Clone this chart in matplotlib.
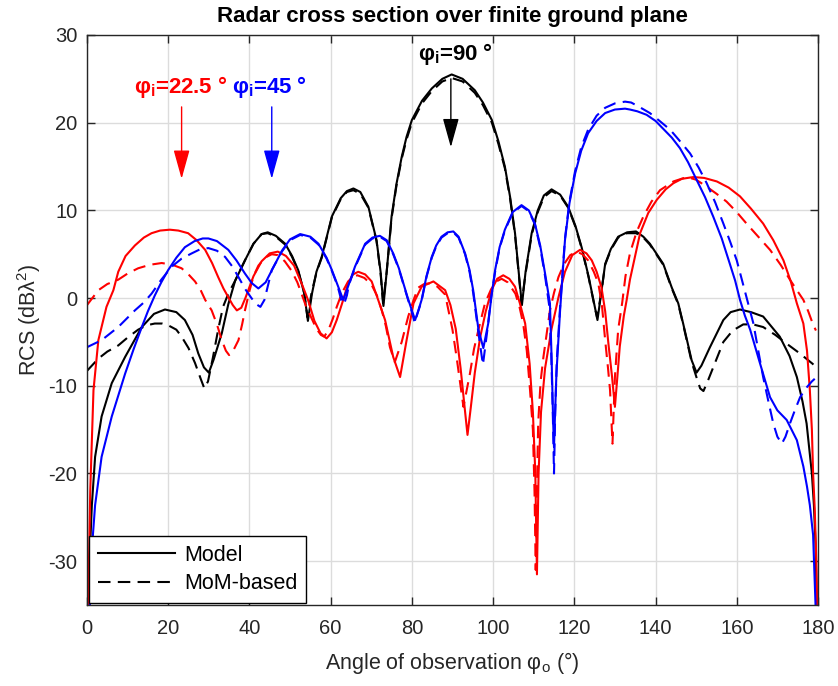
import matplotlib
matplotlib.use("Agg")
import matplotlib.pyplot as plt
from matplotlib.lines import Line2D

plt.rcParams['font.family'] = ['Liberation Sans', 'DejaVu Sans']
plt.rcParams['mathtext.fontset'] = 'custom'
plt.rcParams['mathtext.rm'] = 'Liberation Sans'
plt.rcParams['mathtext.it'] = 'Liberation Sans:italic'
plt.rcParams['mathtext.bf'] = 'Liberation Sans:bold'
plt.rcParams['axes.unicode_minus'] = False

# ---------------- data ----------------
# phi_i = 90 deg, model (solid)
k_mod_x = [0.3, 0.8, 1.2, 2.0, 3.6, 6.1, 9.4, 13.5, 16.5, 19.2, 22.0, 24.1, 26.0, 27.4, 28.8, 30.0, 31.2, 33.2,
           34.8, 36.5, 38.9, 41.0, 43.0, 44.5, 46.5, 48.8, 50.5, 52.0, 53.5, 54.4, 55.4, 56.5, 57.8, 60.3, 62.5,
           64.0, 65.6, 67.3, 69.3, 71.3, 72.3, 73.0, 73.8, 75.0, 76.2, 77.5, 78.7, 80.0, 82.5, 84.9, 87.5, 89.8,
           92.5, 95.5, 97.5, 99.7, 101.3, 102.9, 104.2, 105.4, 106.3, 107.1, 108.0, 109.5, 111.0, 112.5, 114.4,
           116.5, 118.5, 120.3, 121.8, 123.5, 124.7, 125.7, 126.6, 127.6, 129.0, 130.8, 133.0, 135.2, 137.0,
           138.6, 141.9, 144.0, 145.6, 146.8, 148.9, 150.1, 151.3, 153.4, 156.7, 158.5, 160.8, 163.5, 166.5,
           170.6, 173.0, 174.8, 176.2, 177.2, 178.5, 179.0, 179.4, 179.7]
k_mod_y = [-35, -28, -23.6, -18.1, -13.5, -9.7, -6.7, -3.3, -1.8, -1.3, -1.6, -2.5, -4.2, -6.3, -7.9, -8.5, -7.0,
           -4.0, -0.7, 2.0, 4.3, 6.2, 7.3, 7.5, 7.1, 6.2, 4.8, 3.2, 0.5, -2.6, 0.5, 3.0, 4.7, 9.3, 11.4, 12.2, 12.5,
           12.1, 10.4, 6.6, 3.0, -0.9, 3.0, 9.3, 13.0, 16.1, 18.4, 20.3, 22.5, 23.9, 25.0, 25.5, 25.0, 23.7, 22.3,
           20.3, 17.9, 15.0, 11.5, 7.4, 3.0, -0.8, 3.0, 7.4, 10.0, 11.7, 12.4, 11.8, 10.4, 8.2, 5.8, 2.5, -0.2,
           -2.5, 0.5, 3.9, 5.6, 7.0, 7.5, 7.6, 7.0, 6.2, 3.9, 1.2, -0.6, -2.9, -7.1, -8.5, -7.7, -5.6, -2.5, -1.6,
           -1.3, -1.6, -2.1, -4.4, -6.6, -9.0, -11.8, -14.3, -20.0, -23.6, -28.0, -35.0]

# phi_i = 90 deg, MoM (dashed)
k_mom_x = [0.0, 2.8, 5.0, 7.7, 10.0, 12.6, 14.7, 16.7, 18.5, 20.0, 22.0, 23.3, 25.0, 26.6, 28.0, 28.9, 29.8, 31.0,
           32.3, 33.5, 34.8, 36.5, 38.9, 41.0, 43.0, 44.5, 46.5, 48.8, 50.5, 52.0, 53.5, 54.3, 55.3, 56.5, 57.8,
           60.3, 62.5, 64.0, 65.6, 67.3, 69.3, 71.3, 72.3, 72.9, 73.8, 75.0, 76.2, 77.5, 78.7, 80.0, 82.5, 84.9,
           87.5, 89.8, 92.5, 95.5, 97.5, 99.7, 101.3, 102.9, 104.2, 105.4, 106.3, 107.0, 108.0, 109.5, 111.0,
           112.5, 114.4, 116.5, 118.5, 120.3, 121.8, 123.5, 124.7, 125.6, 126.6, 127.6, 129.0, 130.8, 133.0,
           135.2, 137.0, 138.6, 141.9, 144.0, 145.6, 146.8, 148.9, 150.2, 151.0, 151.8, 153.0, 156.7, 159.0,
           161.6, 164.0, 166.5, 169.5, 172.3, 175.5, 178.7, 179.3]
k_mom_y = [-8.3, -6.9, -6.1, -5.4, -4.5, -3.6, -3.1, -2.9, -2.9, -3.1, -3.6, -4.4, -5.7, -7.4, -9.2, -10.3, -9.5,
           -6.8, -3.6, -1.0, 0.5, 2.0, 4.3, 6.2, 7.3, 7.4, 7.0, 6.1, 4.7, 3.1, 0.6, -2.2, 0.6, 2.9, 4.6, 9.2, 11.3,
           12.1, 12.3, 11.9, 10.3, 6.5, 2.8, -0.6, 3.0, 9.1, 12.8, 15.9, 18.1, 20.0, 22.2, 23.6, 24.7, 25.1, 24.7,
           23.4, 22.0, 20.0, 17.6, 14.8, 11.3, 7.2, 2.8, -0.6, 2.8, 7.2, 9.8, 11.5, 12.2, 11.7, 10.3, 8.1, 5.7,
           2.4, -0.3, -2.2, 0.5, 3.8, 5.5, 6.9, 7.4, 7.4, 6.9, 6.1, 3.8, 1.1, -0.7, -3.0, -7.3, -9.2, -10.3,
           -10.6, -9.3, -5.0, -3.7, -3.0, -3.0, -3.3, -4.2, -5.2, -6.3, -7.5, -7.8]

# phi_i = 22.5 deg, model (solid)
r_mod_x = [0.3, 0.8, 1.6, 2.8, 4.8, 6.5, 7.7, 9.5, 11.8, 14.0, 15.9, 18.0, 20.4, 22.5, 24.9, 27.0, 29.1, 30.8, 32.3,
           33.6, 34.8, 35.9, 36.9, 38.0, 39.0, 41.0, 43.0, 45.0, 47.0, 49.0, 51.0, 53.0, 54.5, 56.0, 57.5, 59.0,
           60.3, 61.5, 63.1, 64.3, 65.5, 66.8, 68.5, 70.1, 71.7, 73.4, 75.4, 77.1, 78.7, 80.4, 82.4, 85.3, 88.2,
           89.5, 90.8, 92.0, 93.0, 93.7, 94.5, 95.5, 96.8, 98.2, 99.7, 101.0, 102.5, 104.0, 105.4, 106.6, 107.9,
           109.0, 109.8, 110.4, 110.8, 111.2, 111.8, 112.8, 114.4, 116.1, 117.7, 119.5, 121.4, 123.0, 124.3,
           125.5, 126.7, 127.6, 128.4, 129.3, 130.0, 130.6, 131.2, 132.2, 132.9, 133.7, 136.2, 138.2, 140.3,
           142.5, 144.4, 146.5, 149.3, 152.0, 155.1, 158.0, 160.8, 163.5, 166.5, 169.0, 171.5, 173.3, 174.8,
           176.4, 177.3, 178.0, 178.5, 178.8, 179.2, 179.6, 179.8]
r_mod_y = [-35, -22, -10.5, -4.8, -1.0, 0.9, 3.0, 4.8, 6.0, 6.9, 7.4, 7.7, 7.8, 7.7, 7.4, 6.6, 5.5, 4.0, 2.4, 1.1,
           0.1, -0.8, -1.4, -1.1, 0.0, 2.5, 4.2, 5.1, 5.3, 4.8, 3.7, 1.5, -0.3, -2.6, -4.0, -4.6, -3.9, -2.5, -0.2,
           1.7, 2.7, 3.0, 2.7, 1.9, -0.2, -2.5, -6.7, -9.0, -4.8, -0.6, 1.3, 1.9, 0.9, -0.8, -3.5, -8.0, -12.5,
           -15.6, -12.5, -8.5, -4.5, -1.5, 1.0, 2.2, 2.6, 2.2, 1.3, -0.6, -2.9, -7.5, -13.0, -20.0, -31.5, -20.0,
           -13.0, -8.0, -3.5, 0.1, 3.0, 4.9, 5.5, 5.1, 4.3, 3.0, 1.2, -1.5, -5.2, -9.0, -12.4, -9.0, -5.5, -2.0,
           -0.2, 2.1, 7.4, 9.7, 11.2, 12.4, 13.1, 13.6, 13.8, 13.7, 13.3, 12.6, 11.6, 10.2, 8.5, 6.6, 4.3, 1.9,
           -0.6, -2.9, -6.0, -10.5, -15.0, -20.0, -24.0, -30.0, -35.0]

# phi_i = 22.5 deg, MoM (dashed)
r_mom_x = [0.0, 1.5, 2.8, 5.0, 7.7, 10.0, 12.6, 15.5, 18.4, 21.0, 23.3, 25.0, 26.6, 28.0, 29.1, 30.7, 32.0, 33.2,
           34.2, 35.0, 36.0, 37.3, 38.2, 38.9, 40.0, 41.0, 42.2, 43.8, 45.5, 47.0, 48.7, 50.4, 51.8, 52.9, 54.0,
           55.3, 56.5, 57.6, 58.4, 59.4, 60.5, 61.5, 62.8, 64.3, 65.5, 66.6, 68.3, 70.1, 71.4, 72.6, 73.6, 74.6,
           75.8, 76.7, 77.5, 79.1, 80.5, 81.6, 83.0, 84.5, 86.3, 88.2, 89.0, 90.0, 91.0, 92.0, 92.7, 93.5, 94.3,
           95.3, 96.4, 98.0, 99.5, 100.8, 102.1, 103.6, 105.5, 106.5, 107.4, 108.3, 109.1, 109.8, 110.2, 110.5,
           110.8, 111.1, 111.7, 112.4, 114.0, 115.0, 116.1, 117.5, 119.0, 120.6, 122.0, 123.4, 124.8, 125.9,
           126.8, 127.6, 128.3, 128.8, 129.4, 130.0, 130.8, 131.8, 132.6, 133.7, 135.3, 137.0, 139.0, 141.1,
           144.4, 147.7, 150.0, 152.6, 155.0, 157.5, 160.0, 162.4, 165.3, 168.2, 170.8, 173.1, 174.8, 176.4,
           177.6, 178.7, 179.5]
r_mom_y = [-0.8, 0.1, 0.9, 1.6, 2.1, 2.8, 3.4, 3.8, 4.0, 3.8, 3.4, 2.7, 1.9, 0.9, -0.2, -1.4, -3.0, -4.8, -6.0,
           -6.5, -6.0, -4.8, -3.0, -1.4, 0.8, 2.5, 3.7, 4.6, 5.0, 4.9, 4.2, 3.1, 1.8, 0.4, -1.0, -2.3, -3.5, -4.2,
           -4.4, -3.7, -2.4, -1.0, 0.6, 1.9, 2.4, 2.6, 2.3, 1.5, 0.3, -1.4, -3.2, -5.6, -7.3, -6.1, -5.0, -2.1,
           -0.1, 1.2, 1.6, 1.7, 1.3, 0.4, -1.4, -3.6, -6.7, -10.0, -12.4, -10.5, -8.6, -5.8, -3.6, -0.6, 1.0, 1.9,
           2.2, 1.8, 0.5, -1.0, -2.9, -6.0, -10.5, -15.0, -22.0, -31.0, -22.0, -14.3, -9.5, -6.7, -1.4, 0.6, 2.4,
           3.9, 4.9, 5.3, 5.0, 4.3, 3.0, 1.7, -0.8, -4.8, -8.0, -10.5, -16.6, -9.0, -3.6, -0.5, 2.5, 5.1, 7.5,
           9.3, 11.0, 12.3, 13.3, 13.8, 13.5, 12.7, 11.9, 11.0, 9.8, 8.5, 7.0, 5.5, 3.8, 2.1, 0.9, -0.2, -1.5,
           -2.9, -3.7]

# phi_i = 45 deg, model (solid)
b_mod_x = [0.7, 1.3, 2.0, 3.6, 6.1, 9.4, 11.5, 13.5, 15.0, 16.7, 18.3, 20.0, 22.0, 24.1, 26.5, 28.5, 29.9, 32.0,
           34.8, 36.8, 38.9, 40.6, 42.2, 44.0, 46.0, 48.0, 50.0, 52.5, 55.0, 57.0, 59.0, 60.3, 61.7, 63.1, 64.5,
           66.0, 68.5, 70.3, 72.1, 73.8, 75.4, 76.8, 77.9, 79.0, 80.0, 80.8, 81.6, 82.4, 83.6, 84.9, 86.0, 87.3,
           88.8, 90.2, 91.5, 93.1, 94.2, 95.1, 96.4, 97.6, 98.8, 99.6, 100.5, 101.6, 102.9, 104.8, 107.0, 108.8,
           110.3, 111.6, 112.8, 114.0, 114.4, 114.8, 115.0, 115.2, 115.6, 116.5, 117.7, 118.8, 120.2, 121.7,
           123.4, 125.5, 127.6, 130.0, 132.5, 133.7, 135.5, 137.8, 140.0, 141.9, 144.0, 146.0, 148.0, 150.1,
           152.2, 154.2, 156.3, 158.3, 159.6, 160.8, 162.0, 163.3, 165.7, 168.2, 170.0, 172.3, 174.8, 176.4,
           177.3, 178.0, 178.8, 179.4]
b_mod_y = [-35, -28, -23.6, -18.1, -13.5, -8.6, -5.8, -3.3, -1.5, 0.3, 1.8, 3.2, 4.6, 5.8, 6.5, 6.8, 6.8, 6.5, 5.5,
           4.3, 2.8, 1.7, 1.1, 1.8, 3.6, 5.4, 6.7, 7.3, 7.0, 6.2, 4.6, 3.2, 1.5, -0.2, 1.6, 3.6, 6.2, 6.9, 7.1,
           6.6, 5.1, 3.4, 1.7, 0.0, -1.4, -2.5, -1.4, -0.2, 2.5, 4.7, 6.0, 7.0, 7.5, 7.6, 7.0, 5.1, 3.2, 0.9,
           -3.6, -5.7, -2.9, 0.2, 3.2, 5.8, 7.8, 9.8, 10.6, 10.0, 8.5, 6.0, 2.8, -0.6, -6.7, -14.3, -17.0, -14.0,
           -8.6, -1.4, 6.6, 10.8, 14.2, 16.8, 18.8, 20.2, 21.1, 21.5, 21.6, 21.5, 21.3, 20.9, 20.2, 19.3, 18.3,
           17.1, 15.5, 13.5, 11.5, 9.3, 6.8, 3.9, 2.0, -0.2, -2.0, -3.6, -7.4, -11.3, -12.8, -13.9, -16.2, -19.2,
           -21.5, -23.6, -27.0, -35.0]

# phi_i = 45 deg, MoM (dashed)
b_mom_x = [0.0, 3.6, 7.7, 11.8, 14.0, 15.9, 18.3, 20.9, 23.3, 25.8, 28.0, 29.9, 32.0, 34.0, 35.8, 37.3, 39.0, 40.5,
           41.7, 42.7, 43.7, 44.6, 45.5, 48.0, 50.0, 52.5, 55.0, 57.0, 59.0, 60.3, 61.7, 62.6, 63.3, 64.0, 64.5,
           66.0, 68.5, 70.3, 72.1, 73.8, 75.4, 76.8, 77.9, 79.0, 80.0, 80.7, 81.5, 82.4, 83.6, 84.9, 86.0, 87.3,
           88.8, 90.2, 91.5, 93.1, 94.2, 95.1, 96.4, 97.5, 98.6, 99.5, 100.5, 101.6, 102.9, 104.8, 107.0, 108.8,
           110.3, 111.6, 112.8, 113.8, 114.3, 114.7, 115.0, 115.3, 115.7, 116.5, 117.7, 118.8, 120.2, 121.7,
           123.4, 125.5, 127.6, 130.0, 132.5, 134.0, 136.0, 138.6, 141.0, 143.6, 146.0, 148.5, 150.6, 152.6,
           154.7, 156.7, 158.4, 160.0, 161.2, 162.4, 164.1, 165.3, 166.5, 167.8, 169.0, 170.0, 171.1, 172.0,
           173.1, 174.3, 175.6, 177.0, 178.5, 179.2]
b_mom_y = [-5.6, -4.8, -3.3, -1.4, -0.5, 0.5, 2.1, 3.6, 4.5, 5.1, 5.6, 5.7, 5.4, 4.7, 3.6, 2.4, 1.0, 0.0, -0.7,
           -1.0, -0.2, 1.5, 3.2, 5.3, 6.6, 7.2, 6.9, 6.1, 4.5, 3.1, 1.4, -0.2, -0.7, 0.3, 1.5, 3.5, 6.1, 6.8, 7.0,
           6.5, 5.0, 3.3, 1.6, -0.1, -1.6, -2.8, -1.6, -0.3, 2.4, 4.6, 5.9, 6.9, 7.4, 7.5, 6.9, 5.0, 3.0, 0.6,
           -4.0, -7.6, -3.6, 0.0, 3.0, 5.7, 7.7, 9.7, 10.5, 9.9, 8.4, 5.8, 2.5, -0.8, -6.0, -13.0, -20.0, -13.0,
           -7.0, -1.0, 6.8, 11.0, 14.5, 17.2, 19.2, 20.8, 21.7, 22.2, 22.4, 22.3, 21.8, 21.1, 20.2, 19.2, 17.9,
           16.5, 14.9, 13.1, 10.9, 8.5, 6.4, 4.3, 2.2, 0.1, -2.9, -6.0, -9.0, -11.8, -14.3, -15.8, -16.6, -15.8,
           -14.3, -12.8, -11.3, -10.3, -9.5, -9.2]

x_ticks = [0, 20, 40, 60, 80, 100, 120, 140, 160, 180]
y_ticks = [-30, -20, -10, 0, 10, 20, 30]
legend_labels = ['Model', 'MoM-based']
title_text = 'Radar cross section over finite ground plane'

# ---------------- figure ----------------
fig = plt.figure(figsize=(8.38, 6.86), dpi=100)
ax = fig.add_axes([0.1038, 0.118, 0.8723, 0.831])

lw = 1.5
dash = (0, (6, 3.5))
ax.plot(k_mod_x, k_mod_y, color='black', lw=lw)
ax.plot(k_mom_x, k_mom_y, color='black', lw=lw, linestyle=dash)
ax.plot(r_mod_x, r_mod_y, color='red', lw=lw)
ax.plot(r_mom_x, r_mom_y, color='red', lw=lw, linestyle=dash)
ax.plot(b_mod_x, b_mod_y, color='blue', lw=lw)
ax.plot(b_mom_x, b_mom_y, color='blue', lw=lw, linestyle=dash)

ax.set_xlim(0, 180)
ax.set_ylim(-35, 30)
ax.set_xticks(x_ticks)
ax.set_yticks(y_ticks)
ax.grid(True, color='#dcdcdc', linewidth=1.0)
ax.set_axisbelow(True)
gray = '#262626'
for s in ax.spines.values():
    s.set_color(gray)
    s.set_linewidth(1.0)
ax.tick_params(direction='in', top=True, right=True, length=6, width=1.0,
               labelsize=14.5, colors=gray)
ax.tick_params(axis='x', pad=10)
ax.tick_params(axis='y', pad=7)
ax.set_xlabel('Angle of observation φ$_\\mathrm{o}$ (°)', fontsize=15.5, color=gray, labelpad=9)
ax.set_ylabel('RCS (dBλ$^2$)', fontsize=15.5, color=gray, labelpad=4)
ax.set_title(title_text, fontsize=16, fontweight='bold', color='black', pad=9)

# annotations
arrow_style = '-|>,head_length=0.9,head_width=0.25'
ax.annotate('', xy=(23.3, 13.6), xytext=(23.3, 21.8),
            arrowprops=dict(arrowstyle=arrow_style, color='red', lw=1.0,
                            shrinkA=0, shrinkB=0, mutation_scale=20))
ax.annotate('', xy=(45.5, 13.6), xytext=(45.5, 21.8),
            arrowprops=dict(arrowstyle=arrow_style, color='blue', lw=1.0,
                            shrinkA=0, shrinkB=0, mutation_scale=20))
ax.annotate('', xy=(89.6, 17.2), xytext=(89.6, 25.0),
            arrowprops=dict(arrowstyle=arrow_style, color='black', lw=1.0,
                            shrinkA=0, shrinkB=0, mutation_scale=20))
ax.text(23.2, 22.6, 'φ$_\\mathbf{i}$=22.5 °', color='red', fontsize=16, fontweight='bold',
        ha='center', va='bottom')
ax.text(45.0, 22.6, 'φ$_\\mathbf{i}$=45 °', color='blue', fontsize=16, fontweight='bold',
        ha='center', va='bottom')
ax.text(90.8, 26.4, 'φ$_\\mathbf{i}$=90 °', color='black', fontsize=16, fontweight='bold',
        ha='center', va='bottom')

handles = [Line2D([], [], color='black', lw=lw),
           Line2D([], [], color='black', lw=lw, linestyle=dash)]
leg = ax.legend(handles, legend_labels, loc='lower left', fontsize=15.5, frameon=True, fancybox=False,
                edgecolor='black', framealpha=1, handlelength=3.6, borderaxespad=0.1,
                handletextpad=0.4, borderpad=0.4, labelspacing=0.35)
leg.get_frame().set_linewidth(1.0)

fig.savefig('out.png', dpi=100)
